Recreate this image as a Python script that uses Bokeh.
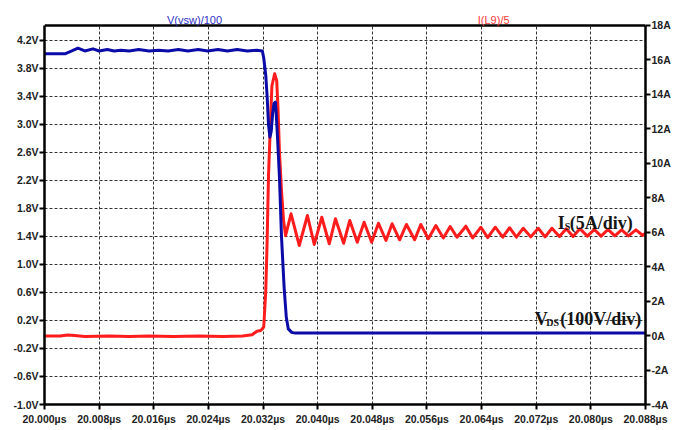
from bokeh.plotting import figure
from bokeh.models import (Range1d, LinearAxis, FixedTicker, PrintfTickFormatter, Label,
                          BoxAnnotation, Span)
from bokeh.embed import file_html
from bokeh.resources import INLINE

# ---- data ----
x_ticks = [20.000, 20.008, 20.016, 20.024, 20.032, 20.040, 20.048, 20.056,
           20.064, 20.072, 20.080, 20.088]
v_ticks = [-1.0, -0.6, -0.2, 0.2, 0.6, 1.0, 1.4, 1.8, 2.2, 2.6, 3.0, 3.4, 3.8, 4.2]
a_ticks = [-4, -2, 0, 2, 4, 6, 8, 10, 12, 14, 16, 18]
v_top = 4.414   # top of the plotted box, left scale
a_top = 18      # top of the plotted box, right scale

# V(vsw)/100  (left axis, V)
vsw_t = [20.0000, 20.0030, 20.0040, 20.0049, 20.0059, 20.0071, 20.0080, 20.0092,
         20.0102, 20.0112, 20.0124, 20.0138, 20.0153, 20.0167, 20.0181, 20.0196,
         20.0210, 20.0225, 20.0239, 20.0254, 20.0268, 20.0282, 20.0297, 20.0311,
         20.0319, 20.0321, 20.0324, 20.0326, 20.0328, 20.0330, 20.0332, 20.0334,
         20.0336, 20.0338, 20.0339, 20.0341, 20.0344, 20.0347, 20.0351, 20.0354,
         20.0357, 20.0362, 20.0367, 20.0880]
vsw_v = [4.01, 4.01, 4.05, 4.09, 4.05, 4.08, 4.05, 4.07,
         4.05, 4.06, 4.05, 4.07, 4.05, 4.06, 4.05, 4.07,
         4.05, 4.07, 4.05, 4.07, 4.05, 4.07, 4.05, 4.06,
         4.05, 3.95, 3.70, 3.40, 3.00, 2.82, 2.90, 3.15,
         3.30, 3.32, 3.20, 2.85, 2.25, 1.40, 0.65, 0.25,
         0.08, 0.03, 0.02, 0.02]

# I(L9)/5  (right axis, A)
il9_t = [20.0000, 20.0023, 20.0034, 20.0044, 20.0059, 20.0095, 20.0124, 20.0153,
         20.0189, 20.0225, 20.0261, 20.0290, 20.0304, 20.0311, 20.0317, 20.0321,
         20.0324, 20.0326, 20.0328, 20.0331, 20.0333, 20.0337, 20.0340, 20.0342,
         20.0344, 20.0347, 20.0350, 20.0353,
         20.0361, 20.0373, 20.0385, 20.0395, 20.0406, 20.0417, 20.0426, 20.0438,
         20.0447, 20.0458, 20.0468, 20.0479, 20.0489, 20.0500, 20.0509, 20.0520,
         20.0530, 20.0542, 20.0551, 20.0562, 20.0573, 20.0584, 20.0594, 20.0604,
         20.0617, 20.0627, 20.0639, 20.0649, 20.0660, 20.0671, 20.0681, 20.0691,
         20.0701, 20.0712, 20.0723, 20.0733, 20.0743, 20.0754, 20.0764, 20.0774,
         20.0784, 20.0795, 20.0805, 20.0815, 20.0825, 20.0835, 20.0845, 20.0855,
         20.0866, 20.0876, 20.0880]
il9_a = [-0.03, -0.03, 0.03, 0.00, -0.05, -0.02, -0.06, -0.02,
         -0.06, -0.02, -0.05, -0.02, 0.05, 0.25, 0.30, 0.50,
         2.60, 5.50, 9.30, 12.50, 14.50, 15.20, 14.80, 13.10,
         10.70, 8.40, 6.70, 5.80,
         7.07, 5.23, 6.97, 5.29, 6.87, 5.33, 6.78, 5.36,
         6.68, 5.42, 6.58, 5.42, 6.52, 5.52, 6.49, 5.56,
         6.45, 5.56, 6.45, 5.62, 6.39, 5.67, 6.33, 5.71,
         6.35, 5.67, 6.29, 5.69, 6.29, 5.71, 6.26, 5.71,
         6.23, 5.73, 6.23, 5.73, 6.23, 5.75, 6.20, 5.75,
         6.20, 5.77, 6.16, 5.77, 6.16, 5.79, 6.14, 5.79,
         6.14, 5.81, 5.95]

BLUE = "#0b0ba8"
RED = "#ff1c1c"
TICK_FONT = "Liberation Sans"
SERIF = "Liberation Serif"

# frame extends above the plotted box to leave room for the trace names
p = figure(width=673, height=430, output_backend="svg", toolbar_location=None,
           x_range=Range1d(20.0, 20.088), y_range=Range1d(-1.0, 4.771),
           min_border_left=44, min_border_right=19, min_border_top=0, min_border_bottom=26,
           background_fill_color="white", border_fill_color="white")
p.extra_y_ranges = {"amps": Range1d(-4, 19.45)}
p.outline_line_color = None

def style_axis(ax):
    ax.axis_line_color = "black"
    ax.axis_line_width = 2.5
    ax.major_tick_line_color = "black"
    ax.major_tick_line_width = 2
    ax.major_tick_out = 5
    ax.major_tick_in = 0
    ax.minor_tick_line_color = None
    ax.major_label_text_font = TICK_FONT
    ax.major_label_text_font_size = "10.5px"
    ax.major_label_text_font_style = "bold"
    ax.major_label_text_color = "#222222"
    ax.major_label_standoff = 1

xa = p.xaxis[0]
xa.ticker = FixedTicker(ticks=x_ticks)
xa.formatter = PrintfTickFormatter(format="%.3fµs")
style_axis(xa)
xa.major_label_standoff = 3

ya = p.yaxis[0]
ya.ticker = FixedTicker(ticks=v_ticks)
ya.formatter = PrintfTickFormatter(format="%.1fV")
ya.bounds = (-1.0, v_top)
style_axis(ya)

ra = LinearAxis(y_range_name="amps", ticker=FixedTicker(ticks=a_ticks),
                formatter=PrintfTickFormatter(format="%dA"), bounds=(-4, a_top))
style_axis(ra)
p.add_layout(ra, "right")

for g in (p.xgrid[0], p.ygrid[0]):
    g.grid_line_color = "#333333"
    g.grid_line_width = 1
    g.grid_line_dash = "3 2"
p.xgrid[0].ticker = FixedTicker(ticks=x_ticks)
p.ygrid[0].ticker = FixedTicker(ticks=v_ticks)

p.line(il9_t, il9_a, y_range_name="amps", line_color=RED, line_width=3,
       line_join="round")
p.line(vsw_t, vsw_v, line_color=BLUE, line_width=3, line_join="round")

# white strip above the box hides the grid there; black top edge of the box
p.add_layout(BoxAnnotation(bottom=v_top, fill_color="white", fill_alpha=1.0,
                           line_color=None, level="glyph"))
p.add_layout(Span(location=v_top, dimension="width", line_color="black",
                  line_width=2.5))

# trace names above the box
p.add_layout(Label(x=20.02197, y=4.49, text="V(vsw)/100", text_align="center",
                   text_baseline="alphabetic", text_font=TICK_FONT,
                   text_font_size="11px", text_color="#3030c8"))
p.add_layout(Label(x=20.06577, y=4.49, text="I(L9)/5", text_align="center",
                   text_baseline="alphabetic", text_font=TICK_FONT,
                   text_font_size="11px", text_color="#ff3a3a"))

def piece(x, y, txt, dx, dy, size):
    p.add_layout(Label(x=x, y=y, text=txt, x_offset=dx, y_offset=dy,
                       text_font=SERIF, text_font_style="bold", text_font_size=size,
                       text_color="#151515", text_baseline="alphabetic"))

piece(20.07515, 1.586, "I", 0, 0, "18px")
piece(20.07515, 1.586, "S", 7, -3, "10px")
piece(20.07515, 1.586, "(5A/div)", 12, 0, "18px")
piece(20.07179, 0.221, "V", 0, 0, "18px")
piece(20.07179, 0.221, "DS", 11.5, -3, "10px")
piece(20.07179, 0.221, "(100V/div)", 25.5, 0, "18px")

open("out.html", "w").write(file_html(p, INLINE))
